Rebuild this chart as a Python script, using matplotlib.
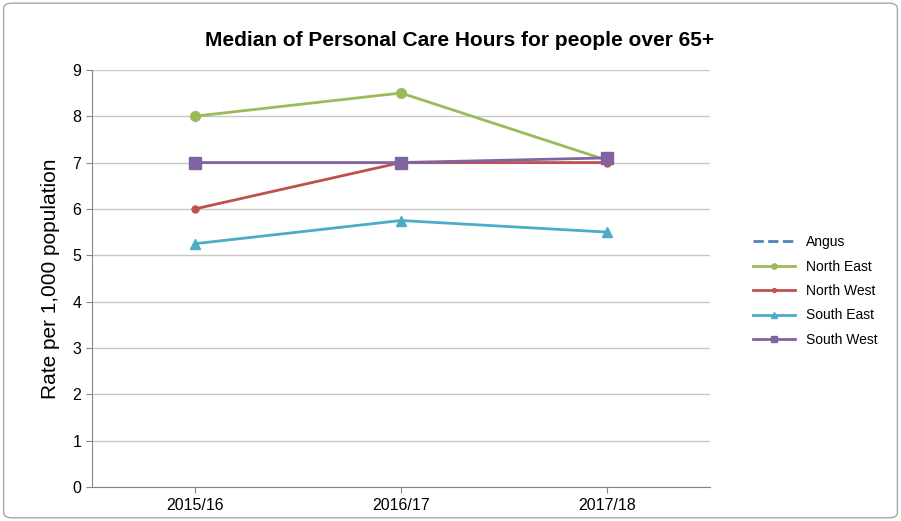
import matplotlib.pyplot as plt
from matplotlib.patches import FancyBboxPatch

plt.rcParams['font.family'] = ['Liberation Sans', 'DejaVu Sans']

# Datos del gráfico
years = ['2015/16', '2016/17', '2017/18']
angus = [None, None, None]
north_east = [8.0, 8.5, 7.05]
north_west = [6.0, 7.0, 7.0]
south_east = [5.25, 5.75, 5.5]
south_west = [7.0, 7.0, 7.1]

fig = plt.figure(figsize=(9.01, 5.21), dpi=100)
ax = fig.add_axes([0.102, 0.065, 0.686, 0.801])

# Borde exterior del gráfico
fig.patches.append(FancyBboxPatch((0.004, 0.006), 0.992, 0.988, boxstyle='round,pad=0,rounding_size=0.01',
                                  transform=fig.transFigure, fill=False, edgecolor='#a6a6a6', linewidth=1))

x = list(range(len(years)))
ax.plot([], [], color='#4F81BD', linestyle='--', linewidth=2, label='Angus')
ax.plot(x, north_east, color='#9BBB59', marker='o', markersize=7, linewidth=2, label='North East')
ax.plot(x, north_west, color='#C0504D', marker='o', markersize=5, linewidth=2, label='North West')
ax.plot(x, south_east, color='#4BACC6', marker='^', markersize=7, linewidth=2, label='South East')
ax.plot(x, south_west, color='#8064A2', marker='s', markersize=8, linewidth=2, label='South West')

ax.set_xlim(-0.5, 2.5)
ax.set_ylim(0, 9)
ax.set_yticks(range(0, 10))
ax.set_xticks(x)
ax.set_xticklabels(years)
ax.tick_params(axis='both', labelsize=11.5, color='#868686', length=4)
ax.yaxis.grid(True, color='#c8c8c8', linewidth=1)
ax.set_axisbelow(True)
for s in ['top', 'right']:
    ax.spines[s].set_visible(False)
for s in ['left', 'bottom']:
    ax.spines[s].set_color('#868686')

ax.set_ylabel('Rate per 1,000 population', fontsize=15, labelpad=9)
# Título centrado en la figura (no en el eje)
fig.text(0.51, 0.922, 'Median of Personal Care Hours for people over 65+', fontsize=15,
         fontweight='bold', ha='center', va='center')

ax.legend(loc='center left', bbox_to_anchor=(1.05, 0.47), frameon=False, fontsize=10,
          handlelength=3, labelspacing=0.75, markerscale=0.55)

fig.savefig('out.png', dpi=100)
